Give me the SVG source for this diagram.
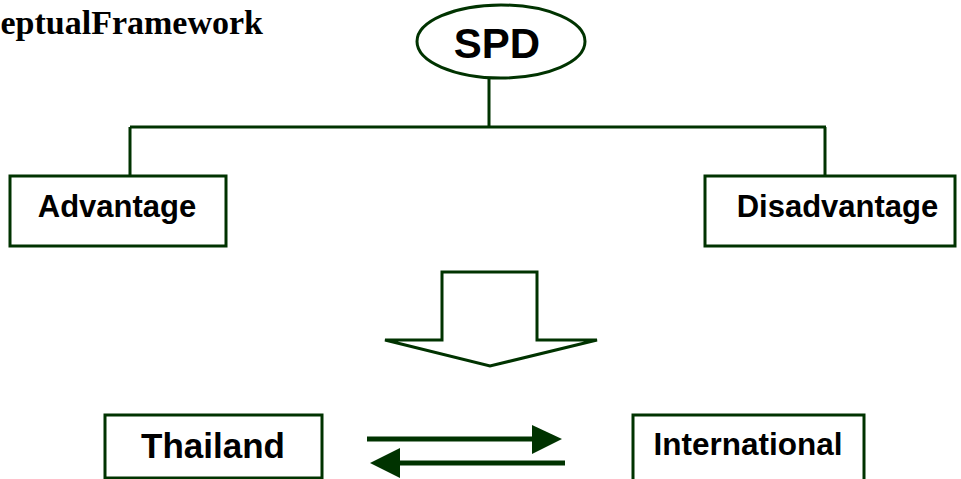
<svg xmlns="http://www.w3.org/2000/svg" width="961" height="479" viewBox="0 0 961 479">
<style>
.ln{stroke:#003300;stroke-width:3;fill:none}
.bx{stroke:#003300;stroke-width:3;fill:#fff}
.t{font-family:"Liberation Sans",Arial,sans-serif;font-weight:bold;fill:#000;text-anchor:middle}
</style>
<rect width="961" height="479" fill="#fff"/>
<text x="263" y="34" font-family="'Liberation Serif','Times New Roman',serif" font-weight="bold" font-size="34" text-anchor="end">eptualFramework</text>
<g id="connectors">
<path class="ln" d="M489,78 V127 M130,127 H826 M130,127 V176 M825,127 V176"/>
<line x1="367" y1="439" x2="532" y2="439" stroke="#003300" stroke-width="5"/>
<path d="M532,425 L562,439 L532,454 z" fill="#003300"/>
<line x1="565" y1="463" x2="400" y2="463" stroke="#003300" stroke-width="5"/>
<path d="M400,448 L370,463 L400,478 z" fill="#003300"/>
</g>
<g id="spd">
<ellipse class="bx" cx="501" cy="41.5" rx="84" ry="36.5"/>
<text class="t" x="497" y="58" font-size="42">SPD</text>
</g>
<g id="advantage">
<rect class="bx" x="10" y="176" width="216" height="70"/>
<text class="t" x="117" y="217" font-size="31">Advantage</text>
</g>
<g id="disadvantage">
<rect class="bx" x="705" y="176" width="250" height="70"/>
<text class="t" x="837.5" y="217" font-size="31">Disadvantage</text>
</g>
<g id="down-arrow">
<path class="ln" d="M442,272 H537 V340 H597 L490,366 L385,340 H442 Z"/>
</g>
<g id="thailand">
<rect class="bx" x="105" y="415" width="217" height="63"/>
<text class="t" x="213" y="458" font-size="35">Thailand</text>
</g>
<g id="international">
<rect class="bx" x="633" y="415" width="231" height="70"/>
<text class="t" x="748" y="455" font-size="31.5">International</text>
</g>
</svg>
